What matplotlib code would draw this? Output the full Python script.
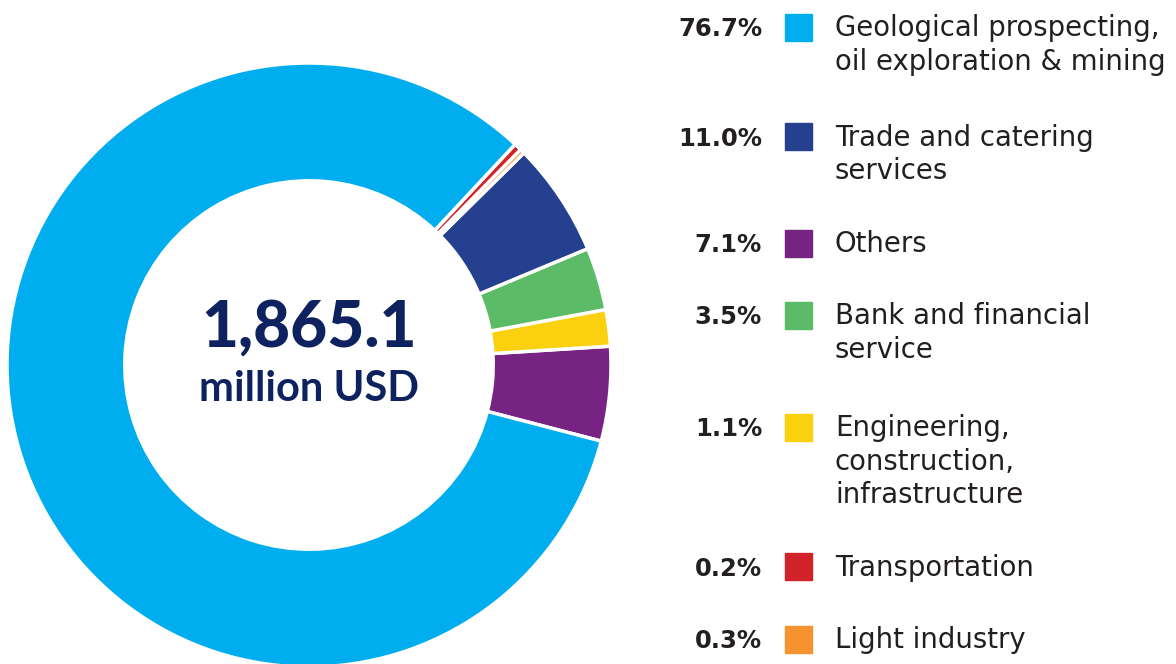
import matplotlib.pyplot as plt
from matplotlib.patches import Rectangle

# sectors, in the order they run round the ring (counter-clockwise from purple)
ring_names = ['Others', 'Engineering', 'Bank', 'Trade', 'Light industry',
              'Transportation', 'Geological']
ring_share = [5.05, 1.95, 3.35, 6.1, 0.25, 0.4, 82.9]
ring_colors = ['#762384', '#FBD10F', '#5CBB67', '#25408F', '#F6922F',
               '#D2232A', '#00AEEF']

# legend rows (top to bottom)
legend_pct = ['76.7%', '11.0%', '7.1%', '3.5%', '1.1%', '0.2%', '0.3%']
legend_text = ['Geological prospecting,\noil exploration & mining',
               'Trade and catering\nservices',
               'Others',
               'Bank and financial\nservice',
               'Engineering,\nconstruction,\ninfrastructure',
               'Transportation',
               'Light industry']
legend_colors = ['#00AEEF', '#25408F', '#762384', '#5CBB67', '#FBD10F',
                 '#D2232A', '#F6922F']
legend_y = [27.5, 136.5, 243.5, 315.5, 427.5, 566.5, 639.5]  # square centres, px

total_value = '1,865.1'
total_unit = 'million USD'

plt.rcParams['font.family'] = ['DejaVu Sans']

W, H = 1176, 664
fig = plt.figure(figsize=(W / 100, H / 100), dpi=100)

# donut: centre (309, 365) px, radius 302 px
cx, cy, r = 309, 365, 302
ax = fig.add_axes([(cx - r) / W, (H - cy - r) / H, 2 * r / W, 2 * r / H])
ax.pie(ring_share, colors=ring_colors, startangle=-14.6, counterclock=True,
       radius=1, wedgeprops=dict(width=0.39, edgecolor='white', linewidth=2.5))
ax.set_xlim(-1, 1)
ax.set_ylim(-1, 1)
ax.set_aspect('equal')
ax.axis('off')

navy = '#0F2260'
ax.text(0, 0.12, total_value, ha='center', va='center', fontsize=46,
        fontweight='black', color=navy, family='Lato')
ax.text(0, -0.08, total_unit, ha='center', va='center', fontsize=30,
        fontweight='bold', color=navy, family='Lato')

# legend drawn in pixel coords
lax = fig.add_axes([0, 0, 1, 1])
lax.set_xlim(0, W)
lax.set_ylim(H, 0)
lax.axis('off')

dark = '#231F20'
for pct, txt, col, yc in zip(legend_pct, legend_text, legend_colors, legend_y):
    lax.add_patch(Rectangle((785, yc - 13.5), 27, 27, color=col))
    base = yc + 9
    lax.text(762, base, pct, ha='right', va='baseline', fontsize=17.5,
             fontweight='bold', color=dark)
    for i, line in enumerate(txt.split('\n')):
        lax.text(835, base + i * 33.3, line, ha='left', va='baseline',
                 fontsize=19.8, color=dark)

fig.savefig('out.png', dpi=100)
